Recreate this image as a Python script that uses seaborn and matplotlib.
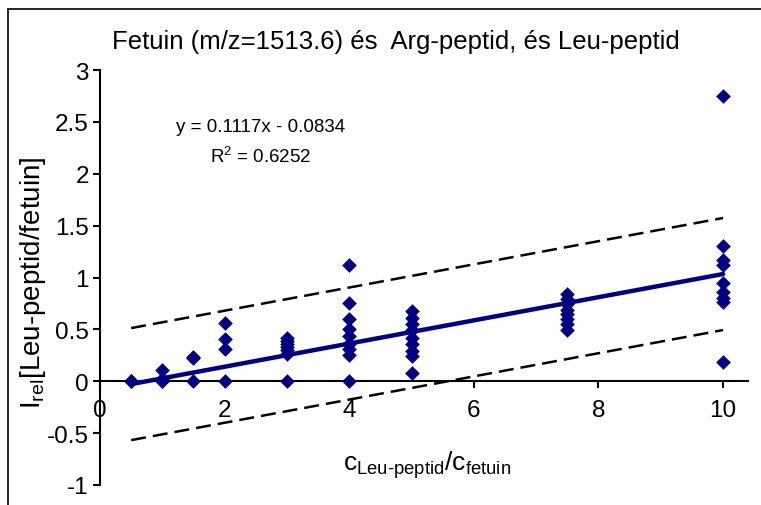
import matplotlib
matplotlib.use("Agg")
import matplotlib.pyplot as plt
import seaborn as sns
import pandas as pd
from matplotlib.lines import Line2D

# ---- data ----
x_values = [0.5, 0.5,
            1, 1, 1, 1,
            1.5, 1.5, 1.5,
            2, 2, 2, 2,
            3, 3, 3, 3, 3, 3, 3,
            4, 4, 4, 4, 4, 4, 4, 4, 4,
            5, 5, 5, 5, 5, 5, 5, 5, 5,
            7.5, 7.5, 7.5, 7.5, 7.5, 7.5, 7.5, 7.5,
            10, 10, 10, 10, 10, 10, 10, 10, 10]
y_values = [0.0, 0.0,
            0.11, 0.02, 0.0, 0.0,
            0.23, 0.22, 0.0,
            0.56, 0.41, 0.31, 0.0,
            0.42, 0.39, 0.36, 0.33, 0.30, 0.26, 0.0,
            1.12, 0.75, 0.60, 0.50, 0.44, 0.36, 0.31, 0.25, 0.0,
            0.68, 0.61, 0.55, 0.49, 0.42, 0.36, 0.29, 0.24, 0.08,
            0.84, 0.79, 0.74, 0.69, 0.65, 0.60, 0.55, 0.49,
            2.75, 1.30, 1.17, 1.12, 0.95, 0.86, 0.80, 0.76, 0.19]
fit_slope = 0.1117
fit_intercept = -0.0834
band_halfwidth = 0.54
fit_x_range = [0.5, 10]
x_ticks = [0, 2, 4, 6, 8, 10]
y_ticks = [-1, -0.5, 0, 0.5, 1, 1.5, 2, 2.5, 3]
y_tick_labels = ["-1", "-0.5", "0", "0.5", "1", "1.5", "2", "2.5", "3"]
title = "Fetuin (m/z=1513.6) és  Arg-peptid, és Leu-peptid"
eq_text = "y = 0.1117x - 0.0834"
r2_text = r"R$^{\mathregular{2}}$ = 0.6252"

sns.set_style("white")
plt.rcParams["font.family"] = ["Liberation Sans", "DejaVu Sans"]
plt.rcParams["text.color"] = "black"
plt.rcParams["axes.labelcolor"] = "black"
plt.rcParams["mathtext.fontset"] = "custom"
plt.rcParams["mathtext.rm"] = "Liberation Sans"
plt.rcParams["mathtext.it"] = "Liberation Sans:italic"
plt.rcParams["mathtext.bf"] = "Liberation Sans:bold"

W, H = 761, 506
fig = plt.figure(figsize=(W / 100, H / 100), dpi=100)
fig.patch.set_facecolor("white")
ax = fig.add_axes([100 / W, 1 - 486 / H, (748 - 100) / W, (486 - 71) / H])
ax.set_facecolor("white")

df = pd.DataFrame({"x": x_values, "y": y_values})
sns.scatterplot(data=df, x="x", y="y", ax=ax, marker="D", s=56,
                color="#000080", edgecolor="#000080", linewidth=0, zorder=4,
                clip_on=False)

fit_df = pd.DataFrame({"x": fit_x_range,
                       "y": [fit_slope * v + fit_intercept for v in fit_x_range]})
sns.lineplot(data=fit_df, x="x", y="y", ax=ax, color="#000080", linewidth=3.2,
             zorder=5)
for sgn in (1, -1):
    band_df = pd.DataFrame({"x": fit_x_range,
                            "y": [fit_slope * v + fit_intercept + sgn * band_halfwidth
                                  for v in fit_x_range]})
    sns.lineplot(data=band_df, x="x", y="y", ax=ax, color="black", linewidth=1.8,
                 dashes=False, zorder=3).lines[-1].set_dashes((6, 2.8))

ax.set_xlim(0, 10.4)
ax.set_ylim(-1, 3)
ax.set_xticks(x_ticks)
ax.set_xticklabels([str(t) for t in x_ticks])
ax.set_yticks(y_ticks)
ax.set_yticklabels(y_tick_labels)
ax.set_xlabel("")
ax.set_ylabel("")

for s in ("top", "right"):
    ax.spines[s].set_visible(False)
ax.spines["bottom"].set_position(("data", 0))
ax.spines["left"].set_position(("data", 0))
for s in ("bottom", "left"):
    ax.spines[s].set_linewidth(1.5)
    ax.spines[s].set_color("black")
ax.tick_params(axis="both", direction="out", length=5, width=1.5,
               color="black", labelsize=17.5, labelcolor="black")
ax.tick_params(axis="x", pad=8)
ax.tick_params(axis="y", pad=3)
ax.xaxis.set_ticks_position("bottom")
ax.yaxis.set_ticks_position("left")

fig.text(396 / W, 1 - 42 / H, title, ha="center", va="center", fontsize=18.5,
         color="black")
ax.text(261 / W, 1 - 128 / H, eq_text, transform=fig.transFigure,
        ha="center", va="center", fontsize=13.5, color="black")
ax.text(261 / W, 1 - 157 / H, r2_text, transform=fig.transFigure,
        ha="center", va="center", fontsize=13.5, color="black")

fig.text(427 / W, 1 - 465 / H,
         r"$\mathregular{c_{\text{Leu-peptid}}/c_{\text{fetuin}}}$",
         ha="center", va="center", fontsize=19, color="black")
fig.text(33 / W, 1 - 283 / H, r"$\mathregular{I_{rel}}$[Leu-peptid/fetuin]",
         ha="center", va="center", rotation=90, fontsize=20, color="black")

# chart frame (top and left edges visible)
fig.add_artist(Line2D([8 / W, 1], [1 - 10 / H, 1 - 10 / H],
                      transform=fig.transFigure, color="black", linewidth=1.2))
fig.add_artist(Line2D([8 / W, 8 / W], [0, 1 - 10 / H],
                      transform=fig.transFigure, color="black", linewidth=1.2))

fig.savefig("out.png", dpi=100, facecolor="white")
